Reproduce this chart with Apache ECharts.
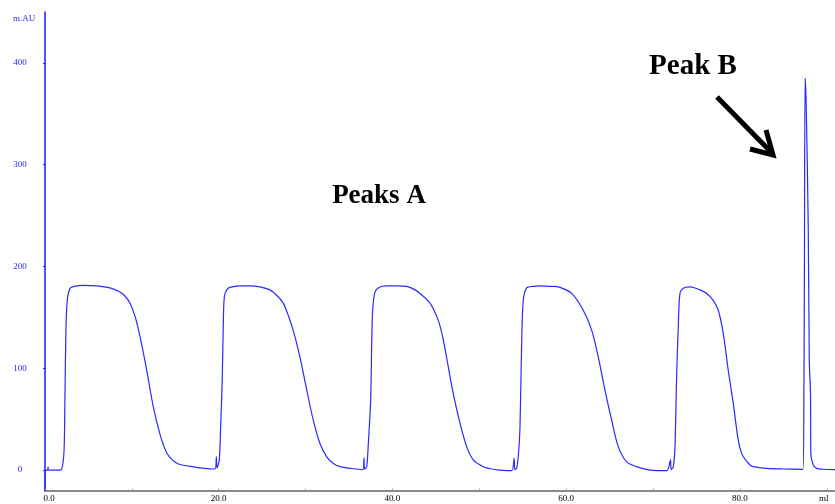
<!DOCTYPE html>
<html>
<head>
<meta charset="utf-8">
<title>Chromatogram</title>
<script src="https://cdn.jsdelivr.net/npm/echarts@6/dist/echarts.min.js"></script>
<style>
  html, body { margin: 0; padding: 0; background: #ffffff; }
  #chart { width: 835px; height: 504px; }
</style>
</head>
<body>
<div id="chart"></div>
<script>
// Absorbance trace (mAU) against eluted volume (ml), one segment per region
const injectionStart = [[0, -21], [0.03, 0], [0.3, 0], [0.35, 3], [0.42, 0], [1.0, 0], [1.8, 0]];
const peakA1 = [[2.11, 10], [2.22, 26], [2.30, 75], [2.42, 141], [2.57, 167], [2.88, 178.5], [3.4, 180.5], [4.41, 181.5], [5.95, 181], [7.48, 179], [8.63, 175], [9.2, 171], [9.78, 164], [10.4, 150], [10.94, 131], [11.71, 98], [12.47, 62], [13.24, 35], [14.0, 17], [14.77, 9], [15.5, 5.5], [16.31, 4.2], [17.84, 2.2], [19.57, 1], [19.73, 13], [19.8, 2]];
const peakA2 = [[20.06, 10], [20.22, 42], [20.41, 92], [20.52, 141], [20.64, 170], [20.92, 177], [21.29, 179.5], [22.44, 181], [23.6, 181], [24.74, 180], [25.9, 177], [26.7, 171.5], [27.43, 164], [28.0, 152], [28.58, 137], [29.35, 111], [30.12, 79], [30.88, 49], [31.65, 26], [32.43, 13], [33.2, 6.5], [33.96, 3.3], [35.3, 1.5], [36.61, 0.5], [36.72, 12], [36.8, 1]];
const peakA3 = [[37.03, 3], [37.22, 26], [37.49, 69], [37.61, 125], [37.72, 157], [37.99, 175], [38.5, 179.5], [39.33, 181], [40.5, 181], [41.63, 180.5], [42.5, 177.5], [43.17, 173.5], [44.32, 164], [45.27, 147], [45.85, 128], [46.42, 101.5], [47.0, 75], [47.77, 46], [48.54, 23], [49.3, 10], [50.45, 3.3], [51.4, 1], [52.37, 0], [53.72, -0.5], [54.0, 11.5], [54.08, 0.5]];
const peakA4 = [[54.29, 2], [54.5, 15], [54.68, 42.5], [54.87, 125], [55.06, 167], [55.45, 179], [56.2, 180.5], [56.98, 181], [58.2, 180.5], [59.28, 179.5], [60.63, 173.5], [61.96, 157], [62.93, 137.5], [63.69, 111], [64.46, 78.6], [65.23, 49], [65.99, 23], [66.96, 8], [68.11, 3.3], [69.65, 0], [71.57, -0.5], [72.0, 10], [72.08, 0.5]];
const peakA5 = [[72.32, 3], [72.52, 23], [72.71, 92], [72.9, 141], [73.09, 173.5], [73.47, 178.5], [74.24, 180], [75.4, 177], [76.17, 173.5], [76.9, 167], [77.5, 157], [78.08, 134], [78.65, 98], [79.23, 65.5], [79.7, 35], [80.0, 21.6], [80.38, 13], [81.15, 5], [81.53, 3.3], [83.07, 1.6], [85.0, 1], [87.25, 0.7]];
const peakB = [[87.36, 75], [87.42, 200], [87.5, 385], [87.62, 360], [87.86, 239], [87.98, 108], [88.12, 75], [88.16, 16], [88.44, 5], [88.83, 1.6], [89.5, 0.8], [90.94, 0.5]];

// Axis ticks and labels
const volumeTicks = [0, 10, 20, 30, 40, 50, 60, 70, 80, 90];
const volumeLabels = [0, 20, 40, 60, 80, 90];
const absorbanceTicks = [0, 100, 200, 300, 400];
const absorbanceLabels = [0, 100, 200, 300, 400, 443];

const trace = [].concat(injectionStart, peakA1, peakA2, peakA3, peakA4, peakA5, peakB);

const chart = echarts.init(document.getElementById('chart'), null, { renderer: 'canvas' });

chart.setOption({
  animation: false,
  backgroundColor: '#ffffff',
  grid: { left: 45, right: 0, top: 12, bottom: 13.6, containLabel: false },
  xAxis: {
    type: 'value',
    min: 0,
    max: 90.94,
    interval: 10,
    splitLine: { show: false },
    axisLine: { show: true, onZero: false, lineStyle: { color: '#8a8a8a', width: 2 } },
    axisTick: { show: true, inside: true, length: 2, customValues: volumeTicks, lineStyle: { color: '#b0b0b0', width: 1 } },
    axisLabel: {
      show: true,
      customValues: volumeLabels,
      margin: 4,
      fontFamily: 'Liberation Serif',
      fontSize: 9,
      color: '#000000',
      formatter: function (v) {
        if (v === 90) return '{r|ml}';
        if (v === 0) return '{l|0.0}';
        return v.toFixed(1);
      },
      rich: {
        l: { fontFamily: 'Liberation Serif', fontSize: 9, color: '#000000', padding: [0, 0, 0, 8] },
        r: { fontFamily: 'Liberation Serif', fontSize: 9, color: '#000000', padding: [0, 6, 0, 0] }
      }
    }
  },
  yAxis: {
    type: 'value',
    min: -20,
    max: 450,
    splitLine: { show: false },
    axisLine: { show: true, onZero: false, lineStyle: { color: '#1a1aff', width: 1.5 } },
    axisTick: { show: true, length: 2, customValues: absorbanceTicks, lineStyle: { color: '#1a1aff', width: 1 } },
    axisLabel: {
      show: true,
      customValues: absorbanceLabels,
      margin: 25,
      align: 'center',
      fontFamily: 'Liberation Serif',
      fontSize: 9,
      color: '#2a2aee',
      formatter: function (v) {
        return v === 443 ? '{u|m.AU}' : String(v);
      },
      rich: {
        u: { fontFamily: 'Liberation Serif', fontSize: 9, color: '#2a2aee', padding: [0, 0, 0, 8] }
      }
    }
  },
  series: [{
    type: 'line',
    data: trace,
    showSymbol: false,
    symbol: 'none',
    smooth: 0.3,
    clip: false,
    lineStyle: { color: '#2a2aff', width: 1.2 }
  }],
  graphic: [
    {
      type: 'text',
      x: 379, y: 196,
      style: { text: 'Peaks A', fill: '#000000', font: 'bold 27px "Liberation Serif"', align: 'center', verticalAlign: 'middle' }
    },
    {
      type: 'text',
      x: 693, y: 67,
      style: { text: 'Peak B', fill: '#000000', font: 'bold 29px "Liberation Serif"', align: 'center', verticalAlign: 'middle' }
    },
    {
      type: 'line',
      shape: { x1: 717, y1: 97, x2: 770, y2: 151 },
      style: { stroke: '#000000', lineWidth: 5 }
    },
    {
      type: 'polyline',
      shape: { points: [[766, 130], [773, 155], [750, 149]] },
      style: { stroke: '#000000', lineWidth: 5, fill: null, lineJoin: 'miter' }
    }
  ]
});
</script>
</body>
</html>
